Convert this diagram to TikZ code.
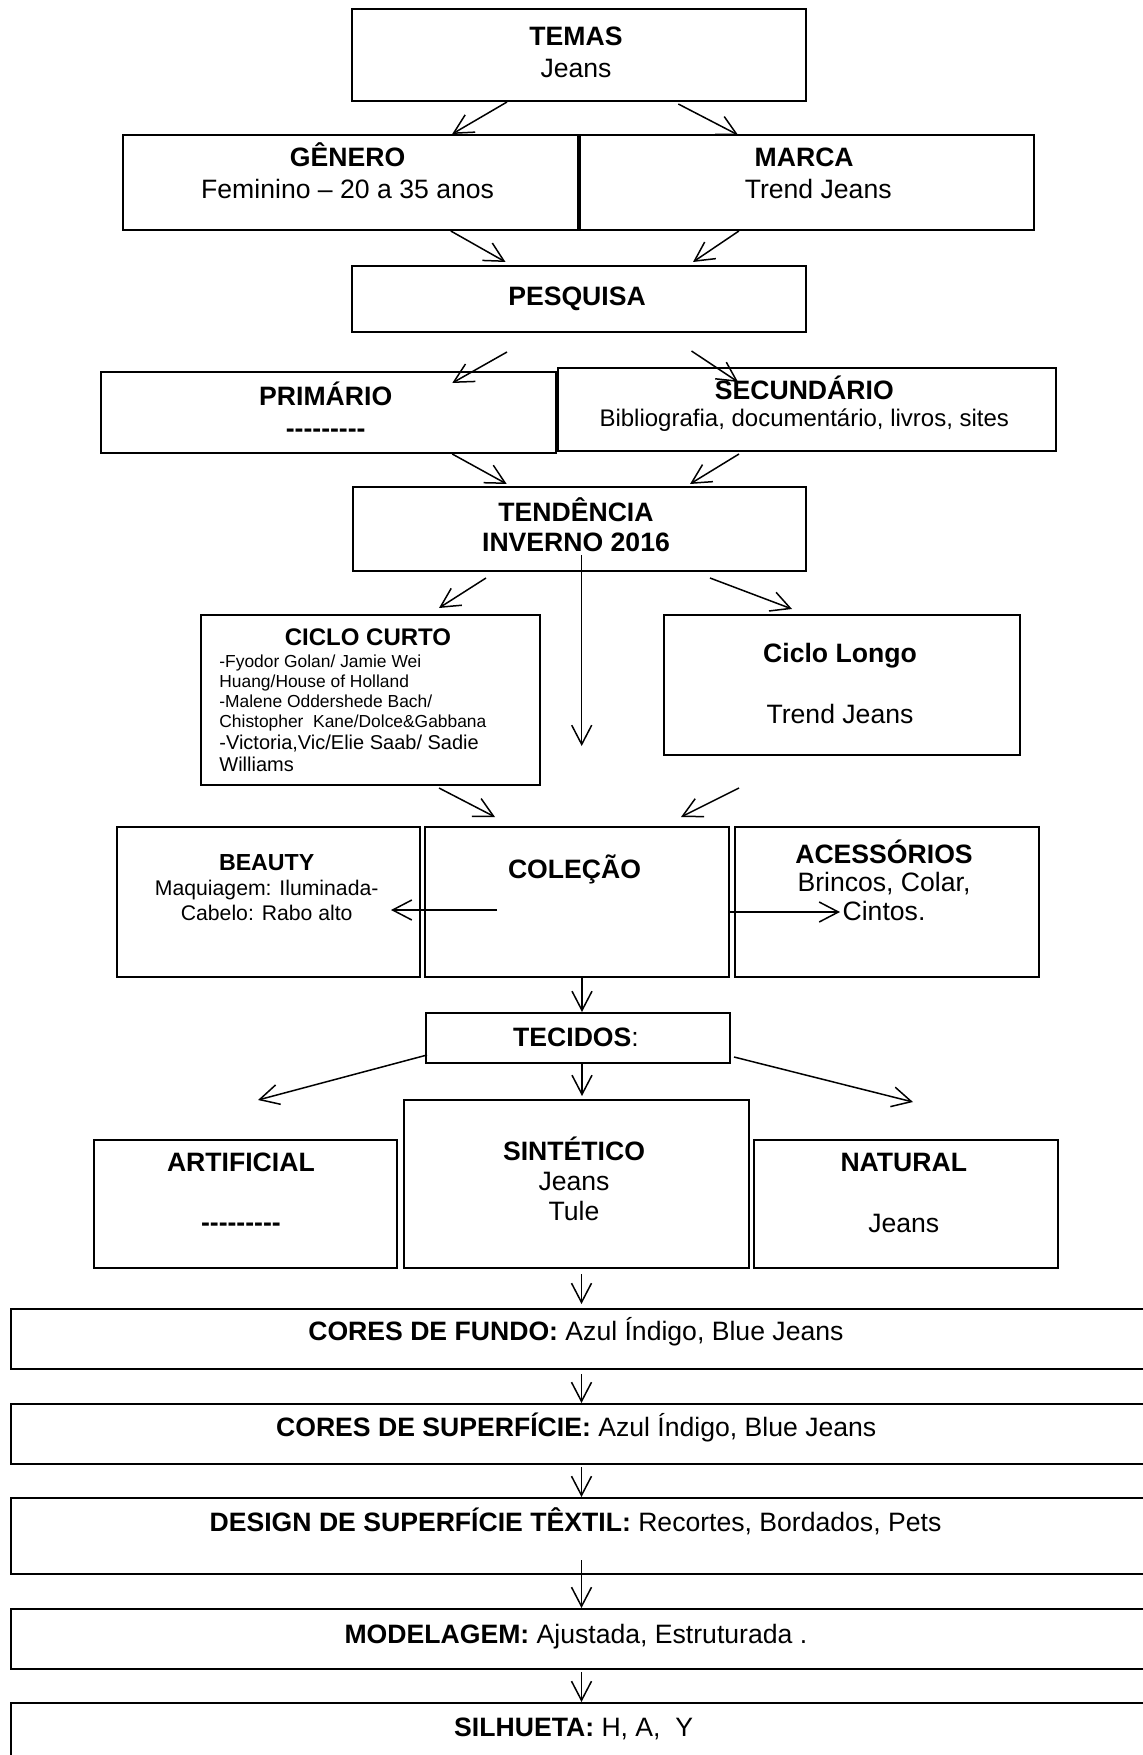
\documentclass[tikz,border=0pt]{standalone}
\usepackage{fontspec}
\setmainfont{Liberation Sans}
\usetikzlibrary{arrows.meta}

\begin{document}
\begin{tikzpicture}[x=0.5pt,y=-0.5pt]
		\useasboundingbox (0,0) rectangle (1143,1755);
		\begin{scope}[every node/.style={rectangle,draw,line width=1pt,inner sep=0pt}]
			\node[minimum width=227.2pt,minimum height=46pt] (temas) at (578.8,55) {};
			\node[minimum width=227.6pt,minimum height=47.5pt] (genero) at (350.1,182.5) {};
			\node[minimum width=227pt,minimum height=47.5pt] (marca) at (807,182.5) {};
			\node[minimum width=227.2pt,minimum height=33pt] (pesquisa) at (578.8,299) {};
			\node[minimum width=227.5pt,minimum height=40.5pt] (primario) at (328.3,412.5) {};
			\node[minimum width=249pt,minimum height=41.5pt] (secundario) at (807,409.5) {};
			\node[minimum width=226.5pt,minimum height=42pt] (tendencia) at (579,529) {};
			\node[minimum width=169.5pt,minimum height=85pt] (cicloc) at (370.5,700) {};
			\node[minimum width=178pt,minimum height=70pt] (ciclol) at (842,685) {};
			\node[minimum width=151.5pt,minimum height=75pt] (beauty) at (268.5,902) {};
			\node[minimum width=152pt,minimum height=75pt] (colecao) at (577,902) {};
			\node[minimum width=152pt,minimum height=75pt] (acess) at (887,902) {};
			\node[minimum width=152pt,minimum height=25pt] (tecidos) at (578,1038) {};
			\node[minimum width=151.7pt,minimum height=64pt] (artificial) at (245.7,1204) {};
			\node[minimum width=172.7pt,minimum height=84pt] (sintetico) at (576.5,1184) {};
			\node[minimum width=152pt,minimum height=64pt] (natural) at (906.3,1204) {};
			\node[minimum width=574.5pt,minimum height=30pt] (fundo) at (585.5,1339) {};
			\node[minimum width=574.5pt,minimum height=30pt] (superf) at (585.5,1434) {};
			\node[minimum width=574.5pt,minimum height=38pt] (design) at (585.5,1536) {};
			\node[minimum width=574.5pt,minimum height=30pt] (model) at (585.5,1639) {};
			\node[minimum width=574.5pt,minimum height=43.5pt] (silh) at (585.5,1746.5) {};
		\end{scope}

		\begin{scope}[every node/.style={inner sep=0pt,align=center,anchor=base,font=\fontsize{13.3}{16}\selectfont}]
			\node (temas-t) at (576,78) {\textbf{TEMAS}\\Jeans};
			\node (genero-t) at (347.6,198.7) {\textbf{GÊNERO}\\Feminino – 20 a 35 anos};
			\node (marca-t) at (804.2,198.7) {\textbf{MARCA}\\\hspace*{14pt}Trend Jeans};
			\node (pesquisa-t) at (577,305) {\textbf{PESQUISA}};
			\node (primario-t) at (325.7,437) {\textbf{PRIMÁRIO}\\\textbf{-{}-{}-{}-{}-{}-{}-{}-{}-}};
			\node[font=\fontsize{13.3}{13.5}\selectfont] (secundario-t) at (804.3,426) {\textbf{SECUNDÁRIO}\\{\fontsize{12}{13.5}\selectfont Bibliografia, documentário, livros, sites}};
			\node[font=\bfseries\fontsize{13.3}{14.75}\selectfont] (tendencia-t) at (576,551) {TENDÊNCIA\\INVERNO 2016};
			\node[font=\bfseries\fontsize{12}{14}\selectfont] (cicloc-h) at (368,645) {CICLO CURTO};
			\node[anchor=base west,align=left,font=\fontsize{8.7}{10}\selectfont] (cicloc-t) at (219,771) {-Fyodor Golan/ Jamie Wei\\Huang/House of Holland\\-Malene Oddershede Bach/\\Chistopher\ \ Kane/Dolce\&Gabbana\\[1pt]{\fontsize{10}{11}\selectfont -Victoria,Vic/Elie Saab/ Sadie}\\[1pt]{\fontsize{10}{11}\selectfont Williams}};
			\node[font=\fontsize{13.3}{15.5}\selectfont] (ciclol-t) at (840,723) {\textbf{Ciclo Longo}\\[15pt]Trend Jeans};
			\node[font=\fontsize{10.6}{12.3}\selectfont] (beauty-t) at (266.7,920) {{\fontsize{11.6}{12.3}\selectfont\textbf{BEAUTY}}\\Maquiagem: Iluminada-\\Cabelo: Rabo alto};
			\node (colecao-t) at (574.5,878) {\textbf{COLEÇÃO}};
			\node[font=\fontsize{13.3}{14.25}\selectfont] (acess-t) at (884,920) {\textbf{ACESSÓRIOS}\\Brincos, Colar,\\Cintos.};
			\node (tecidos-t) at (576,1046.7) {\textbf{TECIDOS}:};
			\node[font=\fontsize{13.3}{15.5}\selectfont] (artificial-t) at (240.9,1231.7) {\textbf{ARTIFICIAL}\\[14.5pt]\textbf{-{}-{}-{}-{}-{}-{}-{}-{}-}};
			\node[font=\fontsize{13.3}{15}\selectfont] (sintetico-t) at (574,1220) {\textbf{SINTÉTICO}\\Jeans\\Tule};
			\node[font=\fontsize{13.3}{15.5}\selectfont] (natural-t) at (903.8,1232.7) {\textbf{NATURAL}\\[15pt]Jeans};
			\node (fundo-t) at (575.9,1340.7) {\textbf{CORES DE FUNDO:} Azul Índigo, Blue Jeans};
			\node (superf-t) at (576.2,1436) {\textbf{CORES DE SUPERFÍCIE:} Azul Índigo, Blue Jeans};
			\node (design-t) at (575.5,1531) {\textbf{DESIGN DE SUPERFÍCIE TÊXTIL:} Recortes, Bordados, Pets};
			\node (model-t) at (575.9,1643) {\textbf{MODELAGEM:} Ajustada, Estruturada .};
			\node (silh-t) at (573.7,1736) {\textbf{SILHUETA:} H, A,\ \ Y};
		\end{scope}

		\begin{scope}[>={Straight Barb[length=9.6pt,width=10pt]},
		              every edge/.style={draw=black,line width=0.75pt,->}]
			\path ([xshift=-35.9pt]temas.south) edge ([xshift=51.05pt]genero.north);
			\path ([xshift=49.75pt,yshift=-1pt]temas.south) edge ([xshift=-34.45pt,yshift=-0.5pt]marca.north);
			\path ([xshift=50.35pt]genero.south) edge ([xshift=-36.65pt,yshift=1.5pt]pesquisa.north);
			\path ([xshift=-34.05pt]marca.south) edge ([xshift=57.1pt,yshift=1.5pt]pesquisa.north);
			\path ([xshift=-35.9pt,yshift=-9.5pt]pesquisa.south) edge ([xshift=61.98pt,yshift=-6pt]primario.north);
			\path ([xshift=56.35pt,yshift=-9pt]pesquisa.south) edge ([xshift=-34.45pt,yshift=-7.5pt]secundario.north);
			\path ([xshift=61.98pt]primario.south) edge ([xshift=-36.15pt,yshift=1pt]tendencia.north);
			\path ([xshift=-34pt,yshift=-1pt]secundario.south) edge ([xshift=55.5pt,yshift=1pt]tendencia.north);
			\path ([xshift=-46.5pt,yshift=-3pt]tendencia.south) edge ([xshift=34.25pt,yshift=3pt]cicloc.north);
			\path ([xshift=1.35pt,yshift=-13pt]tendencia.center) edge ([xshift=2.35pt,yshift=40pt]colecao.north);
			\path ([xshift=65.5pt,yshift=-3pt]tendencia.south) edge ([xshift=-25pt,yshift=2.5pt]ciclol.north);
			\path ([xshift=34.25pt,yshift=-1pt]cicloc.south) edge ([xshift=-41pt,yshift=4.5pt]colecao.north);
			\path ([xshift=-51.5pt,yshift=-16pt]ciclol.south) edge ([xshift=52pt,yshift=4.5pt]colecao.north);
			\path ([xshift=-40pt,yshift=-4pt]colecao.center) edge ([xshift=-15pt,yshift=-4pt]beauty.east);
			\path ([yshift=-5pt]colecao.east) edge ([xshift=53pt,yshift=-5pt]acess.west);
			\path ([xshift=2.5pt]colecao.south) edge ([xshift=2pt]tecidos.north);
			\path ([xshift=1pt,yshift=4.5pt]tecidos.south west) edge ([xshift=6.15pt,yshift=19.5pt]artificial.north);
			\path ([xshift=2pt]tecidos.south) edge ([xshift=2.75pt,yshift=1.5pt]sintetico.north);
			\path ([xshift=1.5pt,yshift=3.5pt]tecidos.south east) edge ([xshift=3.35pt,yshift=18.5pt]natural.north);
			\path ([xshift=2.5pt,yshift=-2.5pt]sintetico.south) edge ([xshift=-2pt,yshift=2pt]fundo.north);
			\path ([xshift=-2pt,yshift=-2pt]fundo.south) edge ([xshift=-2pt]superf.north);
			\path ([xshift=-2pt,yshift=-1pt]superf.south) edge ([xshift=-2pt]design.north);
			\path ([xshift=-2pt,yshift=7.5pt]design.south) edge ([xshift=-2pt]model.north);
			\path ([xshift=-2pt,yshift=-1pt]model.south) edge ([xshift=-2pt]silh.north);
		\end{scope}
\end{tikzpicture}
\end{document}
